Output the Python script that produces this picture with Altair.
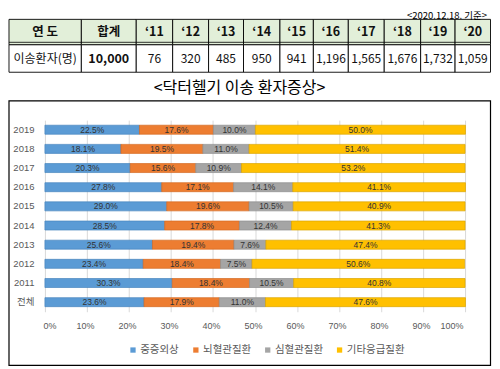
import altair as alt
import pandas as pd

# ---------------- data ----------------
tbl_header = ["연 도", "합계", "‘11", "‘12", "‘13", "‘14", "‘15", "‘16", "‘17", "‘18", "‘19", "‘20"]
tbl_values = ["이송환자(명)", "10,000", "76", "320", "485", "950", "941", "1,196", "1,565", "1,676", "1,732", "1,059"]
date_note = "<2020.12.18. 기준>"
chart_title = "<닥터헬기 이송 환자증상>"

categories = ["2019", "2018", "2017", "2016", "2015", "2014", "2013", "2012", "2011", "전체"]
series = ["중증외상", "뇌혈관질환", "심혈관질환", "기타응급질환"]
trauma = [22.5, 18.1, 20.3, 27.8, 29.0, 28.5, 25.6, 23.4, 30.3, 23.6]
cerebro = [17.6, 19.5, 15.6, 17.1, 19.6, 17.8, 19.4, 18.4, 18.4, 17.9]
cardio = [10.0, 11.0, 10.9, 14.1, 10.5, 12.4, 7.6, 7.5, 10.5, 11.0]
other = [50.0, 51.4, 53.2, 41.1, 40.9, 41.3, 47.4, 50.6, 40.8, 47.6]
x_ticks = [0, 10, 20, 30, 40, 50, 60, 70, 80, 90, 100]

# ---------------- layout (pixels, relative to the plot area's origin) ----------------
col_edges = [-36, 36.5, 91.5, 128, 164, 199, 235.5, 269, 304, 340, 376.5, 411, 446.5]
row_edges = [-101, -75.5, -48]
note_pos = (443, -109)
title_pos = (195, -32.5)
frame_box = (-36, 446.5, -19.3, 245.7)
legend_pos = (83, 225)
PLOT_W, PLOT_H = 421, 192

colors = ["#5b9bd5", "#ed7d31", "#a5a5a5", "#ffc000"]
edge_colors = ["#4a86be", "#d46a22", "#8f8f8f", "#dba600"]
KR = "Noto Sans CJK KR"

PX = alt.Scale(domain=[-60, 500], range=[-60, 500], zero=False, nice=False)
PY = alt.Scale(domain=[-150, 300], range=[-150, 300], zero=False, nice=False)


def px(field):
    return alt.X(field, type="quantitative", scale=PX, axis=None)


def py(field):
    return alt.Y(field, type="quantitative", scale=PY, axis=None)


# ---------------- table ----------------
trows = []
for i in range(len(tbl_header)):
    x0, x1 = col_edges[i], col_edges[i + 1]
    trows.append(dict(row="h", x=x0, x2=x1, xm=(x0 + x1) / 2, y=row_edges[0], y2=row_edges[1],
                      ym=(row_edges[0] + row_edges[1]) / 2, text=tbl_header[i], bold=1, fill="#e2efd9"))
    trows.append(dict(row="d", x=x0, x2=x1, xm=(x0 + x1) / 2, y=row_edges[1], y2=row_edges[2],
                      ym=(row_edges[1] + row_edges[2]) / 2, text=tbl_values[i], bold=1 if i == 1 else 0,
                      fill="#ffffff"))
tdf = pd.DataFrame(trows)
tbase = alt.Chart(tdf)

cells = tbase.mark_rect(stroke="#000000", strokeWidth=0.9).encode(
    x=px("x"), x2="x2", y=py("y"), y2="y2", fill=alt.Fill("fill:N", scale=None))
dbl = tbase.transform_filter("datum.row == 'h'").transform_calculate(yy="datum.y2 - 2.5").mark_rule(
    stroke="#000000", strokeWidth=0.8).encode(x=px("x"), x2="x2", y=py("yy"))
txt_bold = tbase.transform_filter("datum.bold == 1").mark_text(
    fontSize=12.5, fontWeight="bold", font=KR, color="#111111").encode(x=px("xm"), y=py("ym"), text="text:N")
txt_norm = tbase.transform_filter("datum.bold == 0").mark_text(
    fontSize=12, font=KR, color="#111111").encode(x=px("xm"), y=py("ym"), text="text:N")

ndf = pd.DataFrame([dict(x=note_pos[0], y=note_pos[1], text=date_note)])
note = alt.Chart(ndf).mark_text(fontSize=9.5, font=KR, align="right", baseline="top", color="#000000").encode(
    x=px("x"), y=py("y"), text="text:N")
hdf = pd.DataFrame([dict(x=title_pos[0], y=title_pos[1], text=chart_title)])
title = alt.Chart(hdf).mark_text(fontSize=16, font=KR, align="center", baseline="middle", color="#000000").encode(
    x=px("x"), y=py("y"), text="text:N")
fdf = pd.DataFrame([dict(x=frame_box[0], x2=frame_box[1], y=frame_box[2], y2=frame_box[3])])
frame = alt.Chart(fdf).mark_rect(filled=False, stroke="#000000", strokeWidth=1.2).encode(
    x=px("x"), x2="x2", y=py("y"), y2="y2")

# ---------------- bars ----------------
vals = [trauma, cerebro, cardio, other]
brows = []
for ci, cat in enumerate(categories):
    start = 0.0
    for si, s in enumerate(series):
        v = vals[si][ci]
        brows.append(dict(cat=cat, series=s, order=si, value=v, start=start, end=start + v,
                          mid=start + v / 2, label=f"{v:.1f}%"))
        start += v
bdf = pd.DataFrame(brows)

bx = alt.Scale(domain=[0, 100], nice=False)
by = alt.Scale(domain=categories, paddingInner=0.53, paddingOuter=0.265)

bars = alt.Chart(bdf).mark_bar(strokeWidth=0.7).encode(
    x=alt.X("start:Q", scale=bx,
            axis=alt.Axis(values=x_ticks, labelExpr="datum.value + '%'", title=None, domain=False,
                          ticks=False, gridColor="#d9d9d9", gridWidth=1, labelColor="#595959",
                          labelFontSize=9, labelPadding=10, labelOffset=-2, labelFont="Liberation Sans")),
    x2="end:Q",
    y=alt.Y("cat:N", scale=by, sort=categories,
            axis=alt.Axis(title=None, domain=False, ticks=False, labelPadding=11, labelColor="#595959",
                          labelFontSize=9.5, labelFont="Liberation Sans, " + KR)),
    color=alt.Color("series:N", scale=alt.Scale(domain=series, range=colors),
                    legend=alt.Legend(orient="none", legendX=legend_pos[0], legendY=legend_pos[1],
                                      direction="horizontal", title=None,
                                      symbolType="square", symbolSize=28, symbolStrokeWidth=0,
                                      labelFontSize=10.5, labelColor="#595959", labelFont=KR,
                                      columnPadding=11, labelOffset=2)),
    stroke=alt.Stroke("series:N", scale=alt.Scale(domain=series, range=edge_colors), legend=None),
    order=alt.Order("order:Q"),
)
labels = alt.Chart(bdf).mark_text(fontSize=8.5, color="#333333", font="Liberation Sans").encode(
    x=alt.X("mid:Q", scale=bx),
    y=alt.Y("cat:N", scale=by, sort=categories),
    text="label:N",
)
plot = alt.layer(bars, labels)

chart = alt.layer(plot, frame, cells, dbl, txt_bold, txt_norm, note, title).resolve_scale(
    x="independent", y="independent"
).properties(
    width=PLOT_W, height=PLOT_H, padding={"top": 3, "left": 0, "right": 0, "bottom": 0}
).configure_view(stroke=None)

chart.save("out.html", embed_options={"renderer": "svg", "actions": False})
